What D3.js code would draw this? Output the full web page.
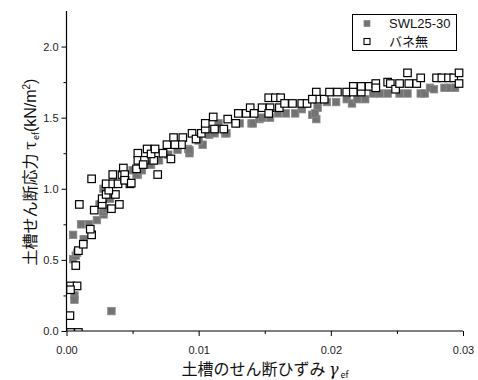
<!DOCTYPE html>
<html>
<head>
<meta charset="utf-8">
<script src="https://cdn.jsdelivr.net/npm/d3@7"></script>
<style>
  body { margin: 0; background: #fff; }
  svg { display: block; }
  .tick text { font-family: "Liberation Sans", Arial, sans-serif; font-size: 11px; fill: #222; }
</style>
</head>
<body>
<div id="chart"></div>
<script>
// series 1: SWL25-30 (gray filled squares), [strain, stress]
const swlStrain = [0.0006, 0.0006, 0.0034, 0.0005, 0.0007, 0.0008, 0.0005, 0.0013, 0.0011, 0.0017,
  0.0023, 0.0028, 0.0028, 0.0025, 0.0028, 0.0033, 0.0030, 0.0054, 0.0050, 0.0053,
  0.0057, 0.0064, 0.0063, 0.0084, 0.0092, 0.0093, 0.0093, 0.0103, 0.0108, 0.0115,
  0.0112, 0.0120, 0.0121, 0.0131, 0.0140, 0.0141, 0.0146, 0.0148, 0.0154, 0.0160,
  0.0166, 0.0173, 0.0178, 0.0178, 0.0186, 0.0190, 0.0189, 0.0188, 0.0197, 0.0204,
  0.0212, 0.0216, 0.0220, 0.0226, 0.0232, 0.0237, 0.0243, 0.0252, 0.0258, 0.0268,
  0.0271, 0.0275, 0.0278, 0.0286, 0.0290, 0.0294, 0.0045, 0.0070, 0.0077, 0.0100];
const swlStress = [0.25, 0.22, 0.14, 0.505, 0.53, 0.55, 0.676, 0.646, 0.75, 0.75,
  0.78, 0.82, 0.84, 0.89, 1.00, 0.93, 0.86, 1.10, 1.13, 1.10,
  1.13, 1.17, 1.17, 1.275, 1.28, 1.25, 1.27, 1.31, 1.38, 1.46,
  1.39, 1.39, 1.39, 1.46, 1.46, 1.46, 1.49, 1.50, 1.50, 1.53,
  1.53, 1.53, 1.56, 1.58, 1.52, 1.57, 1.49, 1.53, 1.61, 1.61,
  1.63, 1.60, 1.63, 1.63, 1.67, 1.67, 1.67, 1.67, 1.67, 1.67,
  1.67, 1.71, 1.70, 1.71, 1.71, 1.71, 1.06, 1.20, 1.24, 1.34];

// series 2: バネ無 (open squares)
const openStrain = [0.0003, 0.0009, 0.00026, 0.0003, 0.0008, 0.0003, 0.0007, 0.0009, 0.00127, 0.0019,
  0.0018, 0.00097, 0.0021, 0.0027, 0.0027, 0.0034, 0.0040, 0.0030, 0.0037, 0.0032,
  0.0030, 0.0035, 0.0039, 0.0048, 0.0044, 0.0035, 0.0019, 0.0042, 0.0043, 0.0044,
  0.0044, 0.0049, 0.0069, 0.0053, 0.0054, 0.0054, 0.0059, 0.0061, 0.0066, 0.0064,
  0.0067, 0.0058, 0.0073, 0.0079, 0.0076, 0.0081, 0.0088, 0.0087, 0.0082, 0.0095,
  0.0098, 0.0102, 0.0105, 0.0105, 0.0111, 0.0112, 0.0119, 0.0122, 0.0128, 0.0130,
  0.0136, 0.0139, 0.0142, 0.0148, 0.0153, 0.0158, 0.0162, 0.0154, 0.0161, 0.0153,
  0.0165, 0.0171, 0.0178, 0.0182, 0.0189, 0.0190, 0.0186, 0.0195, 0.0199, 0.0205,
  0.0212, 0.0217, 0.0217, 0.0223, 0.0223, 0.0229, 0.0234, 0.0234, 0.0243, 0.0245,
  0.0249, 0.0252, 0.0259, 0.0258, 0.0265, 0.0268, 0.0280, 0.0284, 0.0289, 0.0293,
  0.0297, 0.0297];
const openStress = [-0.01, -0.01, 0.108, 0.317, 0.317, 0.29, 0.46, 0.565, 0.61, 0.676,
  0.716, 0.89, 0.85, 0.89, 0.93, 0.86, 0.89, 0.96, 0.96, 0.99,
  1.035, 1.035, 1.035, 1.035, 1.07, 1.10, 1.07, 1.10, 1.146, 1.10,
  1.06, 1.04, 1.10, 1.14, 1.25, 1.20, 1.20, 1.28, 1.20, 1.245,
  1.28, 1.17, 1.25, 1.21, 1.31, 1.36, 1.36, 1.31, 1.31, 1.39,
  1.35, 1.39, 1.42, 1.46, 1.505, 1.42, 1.42, 1.49, 1.46, 1.53,
  1.53, 1.57, 1.53, 1.57, 1.64, 1.64, 1.64, 1.57, 1.57, 1.53,
  1.60, 1.60, 1.60, 1.60, 1.68, 1.63, 1.63, 1.63, 1.68, 1.68,
  1.68, 1.72, 1.68, 1.68, 1.72, 1.72, 1.74, 1.71, 1.75, 1.74,
  1.70, 1.74, 1.74, 1.815, 1.74, 1.78, 1.78, 1.78, 1.78, 1.78,
  1.815, 1.74];

const xTicks = [0, 0.01, 0.02, 0.03];
const yTicks = [0, 0.5, 1.0, 1.5, 2.0];
const legendLabels = ['SWL25-30', 'バネ無'];

const width = 478;
const height = 380;
const mLeft = 66.5, mRight = 463, mTop = 11, mBottom = 331;

const svg = d3.select('#chart').append('svg')
    .attr('width', width)
    .attr('height', height);

const xScale = d3.scaleLinear().domain([0, 0.03]).range([mLeft, mRight]);
const yScale = d3.scaleLinear().domain([0, 2.25]).range([mBottom, mTop]);

svg.append('clipPath').attr('id', 'plot-clip')
    .append('rect')
    .attr('x', mLeft).attr('y', mTop)
    .attr('width', mRight - mLeft + 6).attr('height', mBottom - mTop);

const swl = swlStrain.map((v, i) => ({ x: v, y: swlStress[i] }));
const open = openStrain.map((v, i) => ({ x: v, y: openStress[i] }));

const sq = 7.5;
const plot = svg.append('g').attr('clip-path', 'url(#plot-clip)');

plot.append('g').classed('swl', true)
    .selectAll('rect')
    .data(swl)
    .enter()
    .append('rect')
    .attr('x', d => xScale(d.x) - sq / 2)
    .attr('y', d => yScale(d.y) - sq / 2)
    .attr('width', sq).attr('height', sq)
    .attr('fill', '#737373')
    .attr('stroke', '#8c8c8c')
    .attr('stroke-width', 0.8);

plot.append('g').classed('open', true)
    .selectAll('rect')
    .data(open)
    .enter()
    .append('rect')
    .attr('x', d => xScale(d.x) - sq / 2)
    .attr('y', d => yScale(d.y) - sq / 2)
    .attr('width', sq).attr('height', sq)
    .attr('fill', '#fff')
    .attr('stroke', '#000')
    .attr('stroke-width', 1.2);

// Axes
const xAxis = d3.axisBottom(xScale).tickValues(xTicks)
    .tickFormat(d3.format('.2f')).tickSize(5).tickPadding(10);
const xMinor = d3.axisBottom(xScale).tickValues([0.005, 0.015, 0.025])
    .tickFormat('').tickSize(3);
const yAxis = d3.axisLeft(yScale).tickValues(yTicks)
    .tickFormat(d3.format('.1f')).tickSize(5).tickPadding(3);
const yMinor = d3.axisLeft(yScale).tickValues([0.25, 0.75, 1.25, 1.75])
    .tickFormat('').tickSize(3);

const gx = svg.append('g').attr('transform', `translate(0,${mBottom})`).call(xAxis);
svg.append('g').attr('transform', `translate(0,${mBottom})`).call(xMinor).select('.domain').remove();
const gy = svg.append('g').attr('transform', `translate(${mLeft},0)`).call(yAxis);
svg.append('g').attr('transform', `translate(${mLeft},0)`).call(yMinor).select('.domain').remove();

gx.select('.domain').attr('d', `M${mLeft},0H${mRight}`).attr('stroke-width', 1.2);
gy.select('.domain').attr('d', `M0,${mTop}V${mBottom}`).attr('stroke-width', 1.2);

// Axis titles
const jp = '"Noto Sans CJK JP", sans-serif';
const xt = svg.append('text')
    .attr('x', 265).attr('y', 375)
    .attr('text-anchor', 'middle')
    .attr('font-family', jp).attr('font-size', 16).attr('fill', '#111');
xt.append('tspan').text('土槽のせん断ひずみ ');
xt.append('tspan').text('γ').attr('font-style', 'italic').attr('font-family', '"DejaVu Serif", serif');
xt.append('tspan').text('ef').attr('font-size', 9).attr('dy', 3).attr('dx', 2);

const yt = svg.append('text')
    .attr('transform', 'translate(36,172) rotate(-90)')
    .attr('text-anchor', 'middle')
    .attr('font-family', jp).attr('font-size', 16).attr('fill', '#111');
yt.append('tspan').text('土槽せん断応力 ');
yt.append('tspan').text('τ').attr('font-family', '"DejaVu Serif", serif');
yt.append('tspan').text('ef').attr('font-size', 9).attr('dy', 3).attr('dx', 1);
yt.append('tspan').text('(kN/m').attr('dy', -3).attr('font-family', '"Liberation Sans", Arial, sans-serif');
yt.append('tspan').text('2').attr('font-size', 10).attr('dy', -6).attr('font-family', '"Liberation Sans", Arial, sans-serif');
yt.append('tspan').text(')').attr('dy', 6).attr('font-family', '"Liberation Sans", Arial, sans-serif');

// Legend
const legend = svg.append('g').classed('legend', true);
legend.append('rect')
    .attr('x', 352.5).attr('y', 14.5).attr('width', 104).attr('height', 36)
    .attr('fill', '#fff').attr('stroke', '#000').attr('stroke-width', 1);
const lsq = 6;
legendLabels.forEach((label, i) => {
    const cy = 23.5 + i * 18;
    legend.append('rect')
        .attr('x', 367 - lsq / 2).attr('y', cy - lsq / 2)
        .attr('width', lsq).attr('height', lsq)
        .attr('fill', i === 0 ? '#737373' : '#fff')
        .attr('stroke', i === 0 ? '#8c8c8c' : '#000')
        .attr('stroke-width', i === 0 ? 0.8 : 1.1);
    legend.append('text')
        .attr('x', 389).attr('y', cy + 4.5)
        .attr('font-family', i === 0 ? '"Liberation Sans", Arial, sans-serif' : jp)
        .attr('font-size', 13).attr('fill', '#111')
        .text(label);
});
</script>
</body>
</html>
